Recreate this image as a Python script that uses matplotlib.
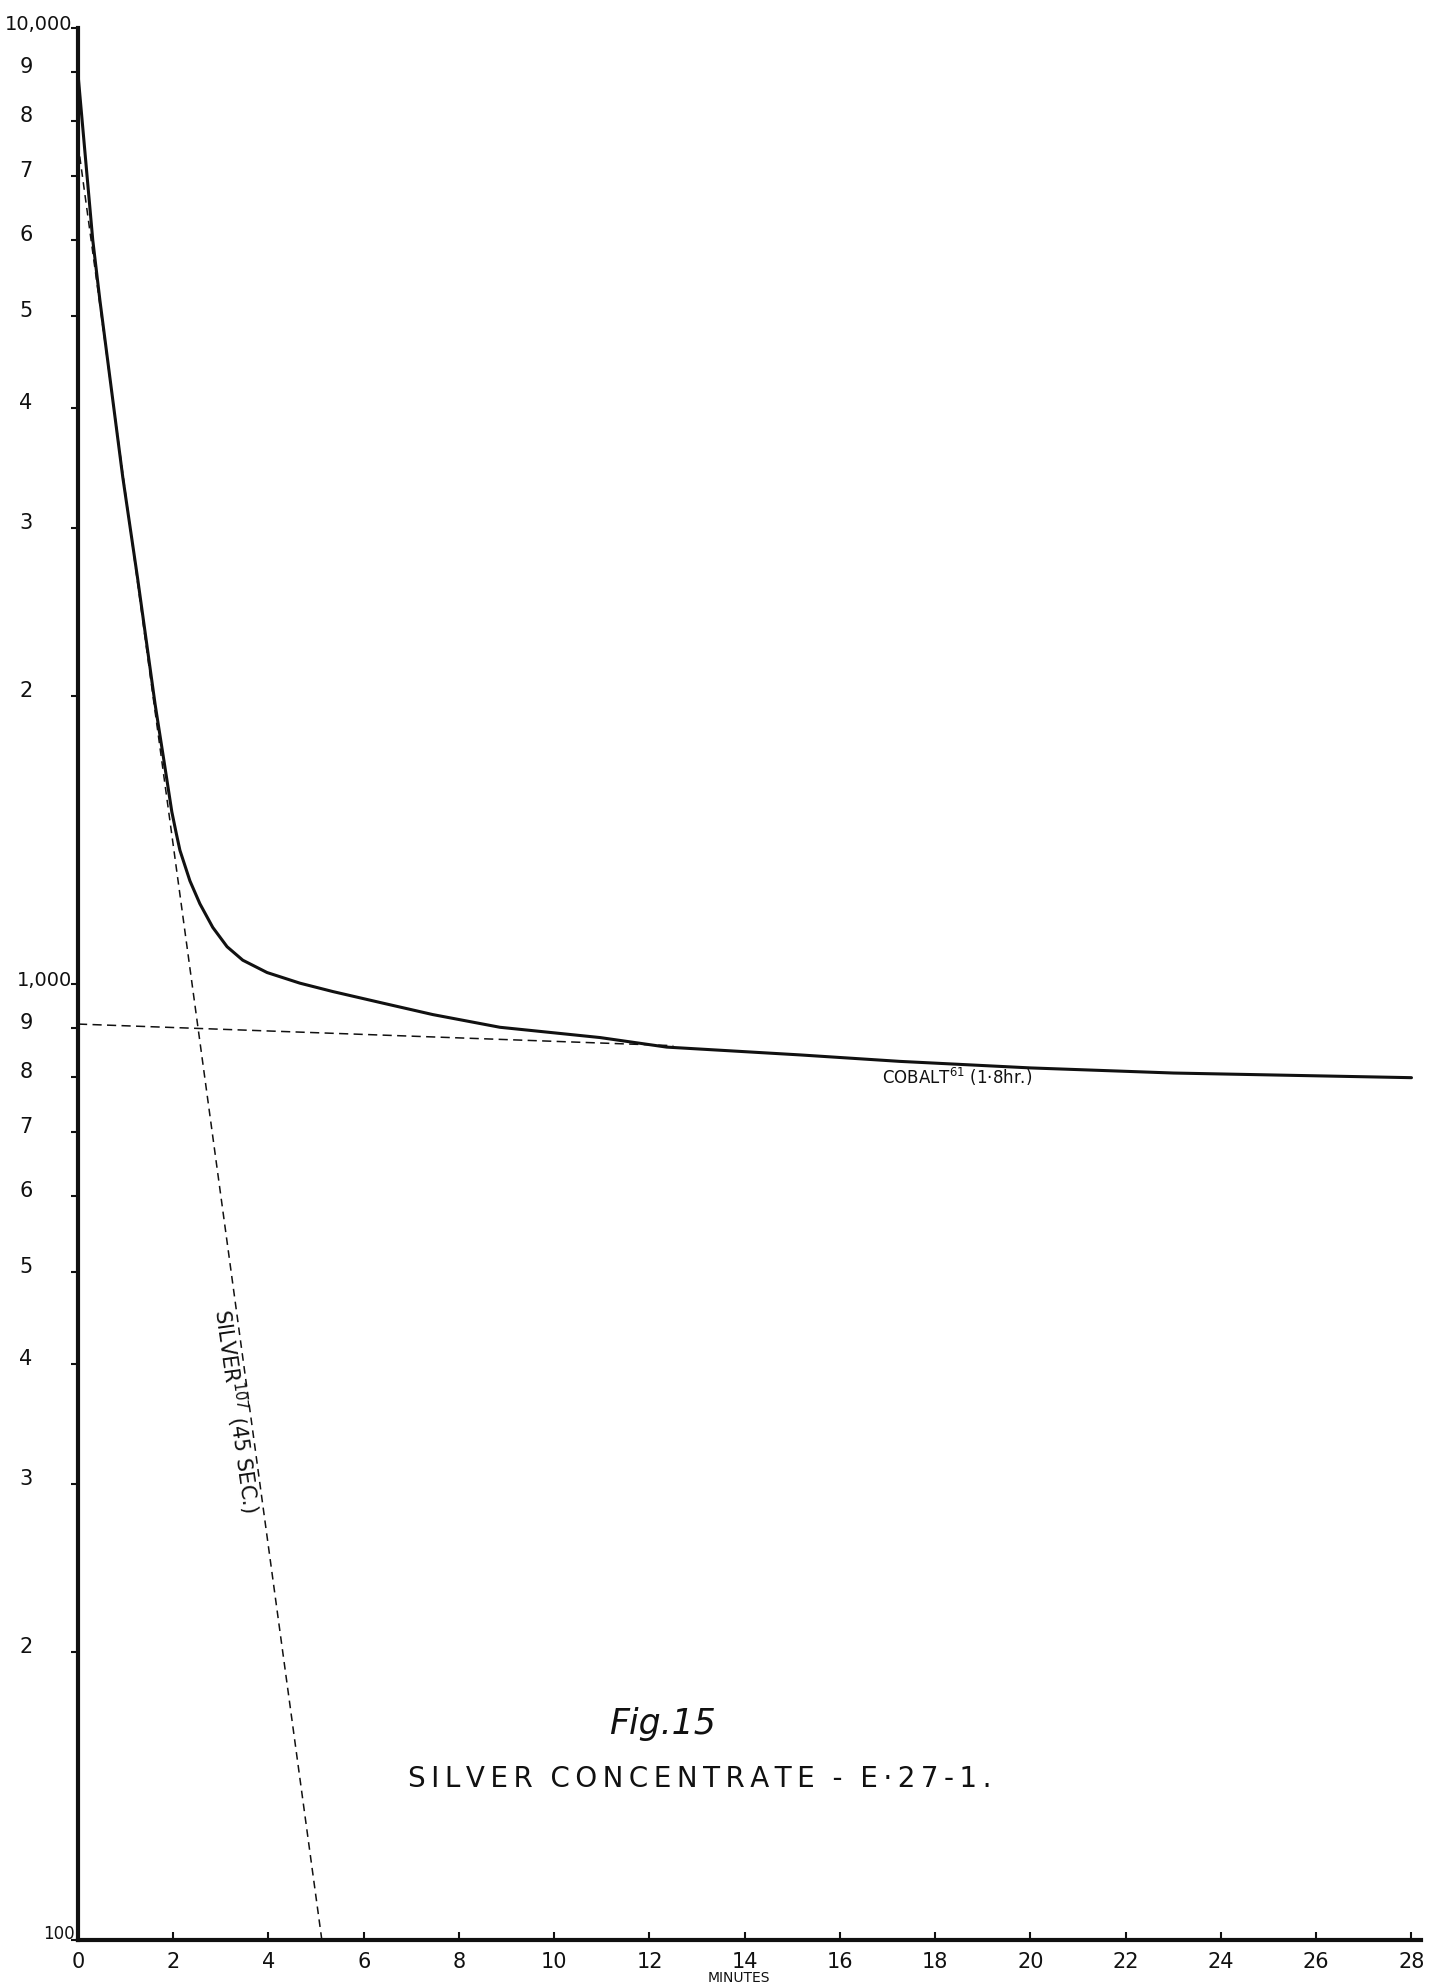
import matplotlib
matplotlib.use("Agg")
from matplotlib import pyplot as plt
from matplotlib.ticker import NullLocator

plt.rcParams['font.family'] = ['DejaVu Sans']

# total activity curve
t_total = [0.0, 0.31, 0.46, 0.94, 1.25, 1.62, 1.80, 1.97, 2.06, 2.14, 2.35, 2.56, 2.83, 3.13, 3.46,
           3.97, 4.66, 5.35, 6.40, 7.45, 8.86, 10.96, 12.36, 15.16, 17.25, 20.0, 23.0, 28.0]
v_total = [8950, 6000, 5190, 3390, 2660, 1960, 1718, 1514, 1440, 1380, 1282, 1213, 1146, 1094, 1059,
           1028, 1002, 982, 955, 929, 901, 879, 859, 843, 830, 817, 807, 798]

# cobalt 61 component (dashed part)
t_cobalt = [0.0, 12.5]
v_cobalt = [908, 862]

# silver 107 component
t_silver = [0.0, 5.12]
v_silver = [7570, 100]

x_ticks = list(range(0, 29, 2))
y_ticks = [10000, 9000, 8000, 7000, 6000, 5000, 4000, 3000, 2000,
           1000, 900, 800, 700, 600, 500, 400, 300, 200, 100]
y_labels = ["10,000", "9", "8", "7", "6", "5", "4", "3", "2",
            "1,000", "9", "8", "7", "6", "5", "4", "3", "2", "100"]

ink = "#111111"

fig = plt.figure(figsize=(14.37, 19.86), dpi=100)
ax = fig.add_axes([78/1437, 46/1986, 1343/1437, 1912/1986])
ax.set_yscale('log')
ax.set_xlim(0, 28.2)
ax.set_ylim(100, 10000)

ax.plot(t_total, v_total, color=ink, lw=2.2, solid_capstyle='round', solid_joinstyle='round')
ax.plot(t_cobalt, v_cobalt, color=ink, lw=1.1, dashes=(6, 3.5))
ax.plot(t_silver, v_silver, color=ink, lw=1.1, dashes=(5, 3.5))

for s in ['top', 'right']:
    ax.spines[s].set_visible(False)
ax.spines['left'].set_linewidth(3)
ax.spines['bottom'].set_linewidth(3)
ax.spines['left'].set_color(ink)
ax.spines['bottom'].set_color(ink)

# x axis
ax.set_xticks(x_ticks)
ax.set_xticklabels([str(x) for x in x_ticks])
ax.tick_params(axis='x', direction='in', length=6, width=1.5, pad=9, labelsize=15, colors=ink)

# y axis: ticks only, labels placed by hand
ax.set_yticks(y_ticks)
ax.yaxis.set_minor_locator(NullLocator())
ax.set_yticklabels([])
ax.tick_params(axis='y', direction='out', length=5, width=1.5, colors=ink)

for v, lab in zip(y_ticks, y_labels):
    if lab in ("10,000", "1,000"):
        ax.annotate(lab, xy=(0, v), xycoords=('axes fraction', 'data'),
                    xytext=(-6, 4), textcoords='offset pixels',
                    ha='right', va='center', fontsize=14, color=ink)
    elif lab == "100":
        ax.annotate(lab, xy=(0, v), xycoords=('axes fraction', 'data'),
                    xytext=(-3, 6), textcoords='offset pixels',
                    ha='right', va='center', fontsize=12, color=ink)
    else:
        ax.annotate(lab, xy=(0, v), xycoords=('axes fraction', 'data'),
                    xytext=(-52, 5), textcoords='offset pixels',
                    ha='center', va='center', fontsize=15, color=ink)

# curve labels
ax.text(18.45, 800, "COBALT$^{61}$ (1·8hr.)", ha='center', va='center',
        fontsize=12, color=ink)
ax.text(3.32, 358, "SILVER$^{107}$ (45 SEC.)", ha='center', va='center',
        rotation=-82, rotation_mode='anchor', fontsize=15, color=ink)

# titles
title = "  ".join("\u2009".join(w) for w in ["SILVER", "CONCENTRATE", "-", "E·27-1."])
fig.text(662/1437, 1 - 1724/1986, "Fig.15", ha='center', va='center',
         fontsize=25, style='italic', color=ink)
fig.text(700/1437, 1 - 1779/1986, title, ha='center', va='center', fontsize=20, color=ink)
fig.text(739/1437, 8/1986, "MINUTES", ha='center', va='center', fontsize=10, color=ink)

fig.savefig("out.png", dpi=100, facecolor='white')
